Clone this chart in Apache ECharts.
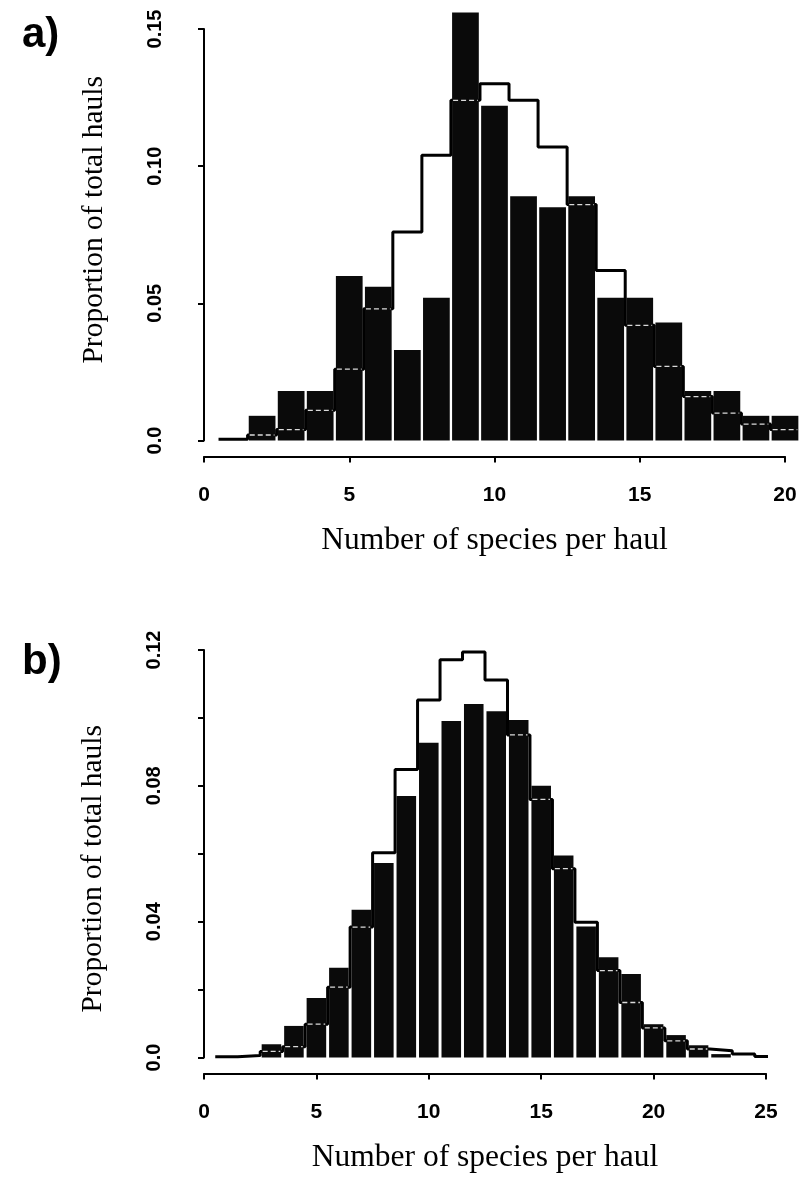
<!DOCTYPE html>
<html>
<head>
<meta charset="utf-8">
<style>
html,body{margin:0;padding:0;background:#fff;}
#c{width:802px;height:1185px;}
</style>
<script src="https://cdn.jsdelivr.net/npm/echarts@6/dist/echarts.min.js"></script>
</head>
<body>
<div id="c"></div>
<script>
// ---- Panel a data ----
const binsA = [1,2,3,4,5,6,7,8,9,10,11,12,13,14,15,16,17,18,19,20];
const obsA  = [0,0.009,0.018,0.018,0.060,0.056,0.033,0.052,0.156,0.122,0.089,0.085,0.089,0.052,0.052,0.043,0.018,0.018,0.009,0.009];
const expA  = [0.0005,0.002,0.004,0.011,0.026,0.048,0.076,0.104,0.124,0.130,0.124,0.107,0.086,0.062,0.042,0.027,0.016,0.010,0.006,0.004];
const xTicksA = [0,5,10,15,20];
const yTicksA = [0,0.05,0.10,0.15];

// ---- Panel b data ----
const binsB = [1,2,3,4,5,6,7,8,9,10,11,12,13,14,15,16,17,18,19,20,21,22,23,24,25];
const obsB  = [0,0,0.0039,0.0093,0.0175,0.0264,0.0435,0.0573,0.077,0.0927,0.0991,0.1041,0.102,0.0994,0.080,0.0595,0.0386,0.0295,0.0246,0.0098,0.0066,0.0036,0.001,0,0];
const expB  = [0.0002,0.0006,0.0018,0.0032,0.0098,0.0207,0.0384,0.0603,0.0848,0.1053,0.1171,0.1194,0.1112,0.095,0.076,0.0556,0.0398,0.0256,0.0162,0.0087,0.0049,0.0025,0.002,0.001,0.0003];
const xTicksB = [0,5,10,15,20,25];
const yTicksB = [0,0.02,0.04,0.06,0.08,0.10,0.12];
const yLabelsB = [0,0.04,0.08,0.12];

const xTitle = 'Number of species per haul';
const yTitle = 'Proportion of total hauls';

const SANS = 'Liberation Sans, Arial, sans-serif';
const SERIF = 'Liberation Serif, Times New Roman, serif';

function stepPoints(bins, vals){
  const pts = bins.map((b,i)=>[b-0.5, vals[i]]);
  pts.push([bins[bins.length-1]+0.5, vals[vals.length-1]]);
  return pts;
}
function barItems(bins, obs, exp){
  return bins.map((b,i)=>[b, obs[i], exp[i]]);
}
function barRenderer(widthUnits){
  return function(params, api){
    const x = api.value(0), v = api.value(1), e = api.value(2);
    if (!(v > 0)) return null;
    const p0 = api.coord([x - widthUnits/2, 0]);
    const p1 = api.coord([x + widthUnits/2, v]);
    const children = [{
      type:'rect',
      shape:{x:p0[0], y:p1[1], width:p1[0]-p0[0], height:p0[1]-p1[1]},
      style:{fill:'#0a0a0a'}
    }];
    if (e < v && e > 0.0015){
      const pe = api.coord([x, e]);
      children.push({
        type:'line',
        shape:{x1:p0[0]+1, y1:pe[1], x2:p1[0]-1, y2:pe[1]},
        style:{stroke:'#ffffff', lineWidth:1.3, lineDash:[5,3], opacity:0.85}
      });
    }
    return {type:'group', children};
  };
}

function fmtA(v){
  const r = Math.round(v*100)/100;
  if (r === 0) return '0.0';
  return r.toFixed(2);
}
function fmtB(v){
  const r = Math.round(v*100)/100;
  if (!yLabelsB.some(t=>Math.abs(t-r)<1e-9)) return '';
  if (r === 0) return '0.0';
  return r.toFixed(2);
}

function xAxisCfg(gi, ticks){
  return {
    type:'value', gridIndex:gi,
    min:ticks[0], max:ticks[ticks.length-1], interval:ticks[1]-ticks[0],
    offset:16,
    axisLine:{show:true, onZero:false, lineStyle:{color:'#000', width:2}},
    axisTick:{show:true, inside:false, length:6, lineStyle:{color:'#000', width:2}},
    axisLabel:{show:true, margin:28, color:'#000', fontFamily:SANS, fontWeight:'bold', fontSize:21},
    splitLine:{show:false},
    name:xTitle, nameLocation:'middle', nameGap:68,
    nameTextStyle:{color:'#000', fontFamily:SERIF, fontSize:31.5}
  };
}
function yAxisCfg(gi, ticks, fmt, offset, pad){
  return {
    type:'value', gridIndex:gi,
    min:ticks[0], max:ticks[ticks.length-1], interval:ticks[1]-ticks[0],
    offset:offset,
    axisLine:{show:true, lineStyle:{color:'#000', width:2}},
    axisTick:{show:true, inside:false, length:6, lineStyle:{color:'#000', width:2}},
    axisLabel:{show:true, rotate:90, margin:28, color:'#000', fontFamily:SANS, fontWeight:'bold', fontSize:20, formatter:fmt},
    splitLine:{show:false},
    name:yTitle, nameLocation:'middle', nameRotate:90, nameGap:84,
    nameTextStyle:{color:'#000', fontFamily:SERIF, fontSize:29.5, padding:pad}
  };
}

const chart = echarts.init(document.getElementById('c'), null, {renderer:'canvas'});
chart.setOption({
  animation:false,
  backgroundColor:'#ffffff',
  title:[
    {text:'a)', left:17, top:9, textStyle:{fontFamily:SANS, fontWeight:'bold', fontSize:42, color:'#000'}},
    {text:'b)', left:17, top:636, textStyle:{fontFamily:SANS, fontWeight:'bold', fontSize:42, color:'#000'}}
  ],
  grid:[
    {left:204, right:17, top:29, bottom:744.5},
    {left:204, right:36, top:650, bottom:127.5}
  ],
  xAxis:[xAxisCfg(0, xTicksA), xAxisCfg(1, xTicksB)],
  yAxis:[yAxisCfg(0, yTicksA, fmtA, 11, [0,0,0,30]), yAxisCfg(1, yTicksB, fmtB, 12, [0,30,0,0])],
  series:[
    {type:'line', xAxisIndex:0, yAxisIndex:0, step:'end', data:stepPoints(binsA, expA),
     showSymbol:false, symbol:'none', clip:false, z:2,
     lineStyle:{color:'#000', width:3}},
    {type:'custom', xAxisIndex:0, yAxisIndex:0, data:barItems(binsA, obsA, expA),
     renderItem:barRenderer(0.92), clip:false, z:3},
    {type:'line', xAxisIndex:1, yAxisIndex:1, step:'end', data:stepPoints(binsB, expB),
     showSymbol:false, symbol:'none', clip:false, z:2,
     lineStyle:{color:'#000', width:3}},
    {type:'custom', xAxisIndex:1, yAxisIndex:1, data:barItems(binsB, obsB, expB),
     renderItem:barRenderer(0.87), clip:false, z:3}
  ]
});
</script>
</body>
</html>
